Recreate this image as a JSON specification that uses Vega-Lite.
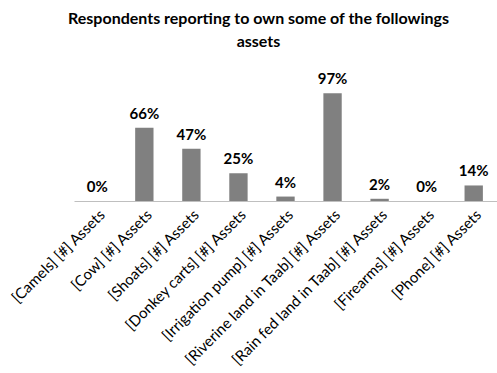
{
  "$schema": "https://vega.github.io/schema/vega-lite/v6.json",
  "autosize": "none",
  "width": 423,
  "height": 111,
  "padding": {"left": 74, "top": 90, "right": 0, "bottom": 172},
  "background": "white",
  "title": {
    "text": ["Respondents reporting to own some of the followings", "assets"],
    "font": "Lato",
    "fontSize": 16,
    "fontWeight": "bold",
    "color": "#000000",
    "anchor": "middle",
    "frame": "group",
    "dx": -27,
    "offset": 22,
    "lineHeight": 23
  },
  "data": {
    "values": [
      {"asset": "[Camels] [#] Assets", "share": 0.0},
      {"asset": "[Cow] [#] Assets", "share": 0.66},
      {"asset": "[Shoats] [#] Assets", "share": 0.47},
      {"asset": "[Donkey carts] [#] Assets", "share": 0.25},
      {"asset": "[Irrigation pump] [#] Assets", "share": 0.04},
      {"asset": "[Riverine land in Taab] [#] Assets", "share": 0.97},
      {"asset": "[Rain fed land in Taab] [#] Assets", "share": 0.02},
      {"asset": "[Firearms] [#] Assets", "share": 0.0},
      {"asset": "[Phone] [#] Assets", "share": 0.14}
    ]
  },
  "encoding": {
    "x": {
      "field": "asset",
      "type": "nominal",
      "sort": null,
      "scale": {"paddingInner": 0.61, "paddingOuter": 0.3},
      "axis": {
        "title": null,
        "labelAngle": -45,
        "labelFont": "Lato",
        "labelFontSize": 15,
        "labelColor": "#000000",
        "labelPadding": 6,
        "labelLimit": 400,
        "ticks": false,
        "domainColor": "#bfbfbf",
        "grid": false
      }
    },
    "y": {
      "field": "share",
      "type": "quantitative",
      "scale": {"domain": [0, 1]},
      "axis": null
    }
  },
  "layer": [
    {"mark": {"type": "bar", "color": "#808080"}},
    {
      "mark": {"type": "text", "dy": -14, "font": "Lato", "fontSize": 15, "fontWeight": "bold", "color": "#000000"},
      "encoding": {"text": {"field": "share", "type": "quantitative", "format": ".0%"}}
    }
  ],
  "config": {"view": {"stroke": null}}
}
